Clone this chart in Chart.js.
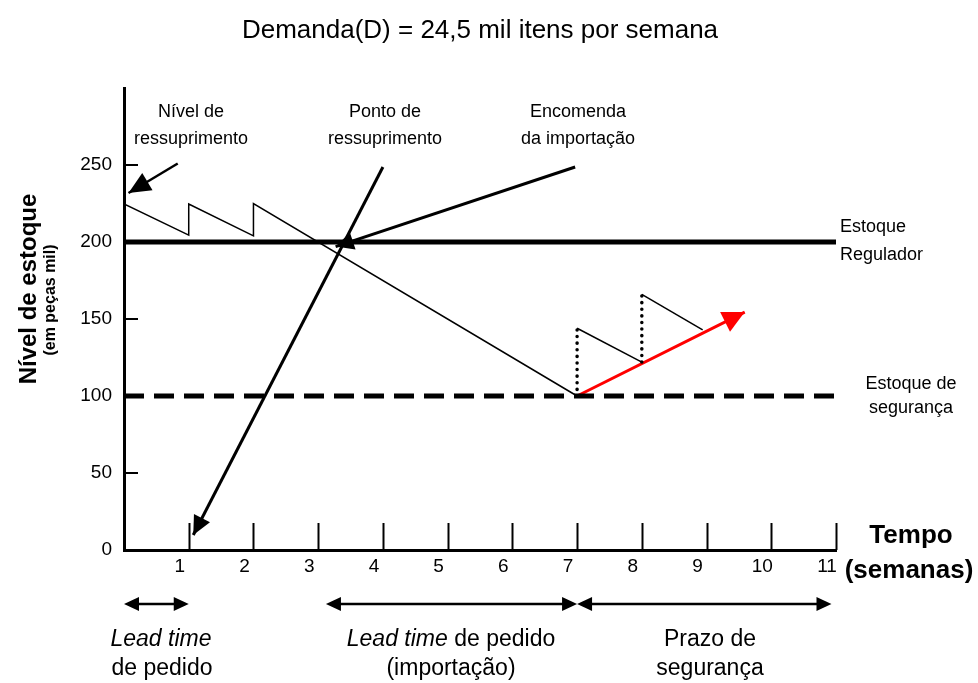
<!DOCTYPE html>
<html>
<head>
<meta charset="utf-8">
<script src="https://cdn.jsdelivr.net/npm/chart.js@4.4.1/dist/chart.umd.min.js"></script>
<style>
  html, body { margin: 0; padding: 0; background: #fff; }
  canvas { display: block; }
</style>
</head>
<body>
<canvas id="c" width="978" height="683"></canvas>
<script>
// ---------- DATA ----------
const title = 'Demanda(D) = 24,5 mil itens por semana';
const xTickValues = [1, 2, 3, 4, 5, 6, 7, 8, 9, 10, 11];
const yTickValues = [0, 50, 100, 150, 200, 250];

// stock level (sawtooth and long decline)
const sawX = [0, 1, 1, 2, 2, 7];
const sawY = [224.7, 204.5, 224.7, 204, 225, 100];
// replenishment after safety stock reached
const refill1X = [7, 8];
const refill1Y = [144, 122];
const refill2X = [8, 8.94];
const refill2Y = [166, 143];
const jump1X = [7, 7];
const jump1Y = [100, 144];
const jump2X = [8, 8];
const jump2Y = [122, 166];
// reference levels
const reguladorX = [0, 11];
const reguladorY = [200, 200];
const segurancaX = [0, 11];
const segurancaY = [100, 100];
// arrows
const redX = [7, 9.59];
const redY = [100, 154.5];
const pontoX = [4.0, 1.07];
const pontoY = [248.7, 9.7];
const encomendaX = [6.97, 3.27];
const encomendaY = [248.7, 197];
const nivelX = [0.83, 0.07];
const nivelY = [251, 231.8];
// time spans shown under the axis (weeks)
const spanLeadPedido = [0, 1];
const spanLeadImport = [3.12, 7];
const spanPrazo = [7, 10.93];

const pts = (xs, ys) => xs.map((x, i) => ({ x: x, y: ys[i] }));

function ds(xs, ys, o) {
  return Object.assign({
    data: pts(xs, ys),
    borderColor: '#000',
    borderWidth: 1.5,
    pointRadius: 0,
    showLine: true,
    fill: false,
    tension: 0
  }, o || {});
}

const datasets = [
  ds(reguladorX, reguladorY, { borderWidth: 5 }),
  ds(segurancaX, segurancaY, { borderWidth: 5, borderDash: [20, 10] }),
  ds(sawX, sawY, { borderWidth: 1.5 }),
  ds(refill1X, refill1Y, { borderWidth: 1.5 }),
  ds(refill2X, refill2Y, { borderWidth: 1.5 }),
  ds(jump1X, jump1Y, { borderWidth: 3.5, borderDash: [0.1, 6.5], borderCapStyle: 'round' }),
  ds(jump2X, jump2Y, { borderWidth: 3.5, borderDash: [0.1, 6.5], borderCapStyle: 'round' }),
  ds(pontoX, pontoY, { borderWidth: 3, arrow: { len: 19, half: 9 } }),
  ds(encomendaX, encomendaY, { borderWidth: 3, arrow: { len: 18, half: 9 } }),
  ds(nivelX, nivelY, { borderWidth: 2.5, arrow: { len: 22, half: 10 } }),
  ds(redX, redY, { borderWidth: 3, borderColor: '#ff0000', arrow: { len: 22, half: 11, color: '#ff0000' } })
];

const FONT = '"Liberation Sans", Arial, sans-serif';

function tri(ctx, tx, ty, fx, fy, len, half, color) {
  const dx = tx - fx, dy = ty - fy;
  const d = Math.hypot(dx, dy);
  const ux = dx / d, uy = dy / d;
  const bx = tx - ux * len, by = ty - uy * len;
  ctx.beginPath();
  ctx.moveTo(tx, ty);
  ctx.lineTo(bx - uy * half, by + ux * half);
  ctx.lineTo(bx + uy * half, by - ux * half);
  ctx.closePath();
  ctx.fillStyle = color;
  ctx.fill();
}

function mixedText(ctx, parts, cx, y) {
  let w = 0;
  parts.forEach(p => { ctx.font = p.font; p.w = ctx.measureText(p.t).width; w += p.w; });
  let x = cx - w / 2;
  ctx.textAlign = 'left';
  ctx.textBaseline = 'alphabetic';
  parts.forEach(p => { ctx.font = p.font; ctx.fillText(p.t, x, y); x += p.w; });
}

const decor = {
  id: 'decor',
  afterDatasetsDraw(chart) {
    const ctx = chart.ctx;
    const xs = chart.scales.x, ys = chart.scales.y;
    const area = chart.chartArea;
    ctx.save();
    // arrowheads
    chart.data.datasets.forEach(d => {
      if (!d.arrow) return;
      const n = d.data.length;
      const a = d.data[n - 2], b = d.data[n - 1];
      tri(ctx, xs.getPixelForValue(b.x), ys.getPixelForValue(b.y),
          xs.getPixelForValue(a.x), ys.getPixelForValue(a.y),
          d.arrow.len, d.arrow.half, d.arrow.color || '#000');
    });
    // x tick marks (inside)
    ctx.strokeStyle = '#000';
    ctx.lineWidth = 2;
    xTickValues.forEach(v => {
      const px = Math.round(xs.getPixelForValue(v)) + 0.5;
      ctx.beginPath();
      ctx.moveTo(px, area.bottom);
      ctx.lineTo(px, area.bottom - 27);
      ctx.stroke();
    });
    // y tick marks (inside)
    yTickValues.forEach(v => {
      if (v === 0) return;
      const py = Math.round(ys.getPixelForValue(v));
      ctx.beginPath();
      ctx.moveTo(area.left, py);
      ctx.lineTo(area.left + 14, py);
      ctx.stroke();
    });

    ctx.fillStyle = '#000';
    // title
    ctx.font = '26px ' + FONT;
    ctx.textAlign = 'center';
    ctx.textBaseline = 'alphabetic';
    ctx.fillText(title, 480, 38);

    // annotations
    ctx.font = '18px ' + FONT;
    ctx.textBaseline = 'middle';
    ctx.textAlign = 'center';
    ctx.fillText('Nível de', 191, 112);
    ctx.fillText('ressuprimento', 191, 139);
    ctx.fillText('Ponto de', 385, 112);
    ctx.fillText('ressuprimento', 385, 139);
    ctx.fillText('Encomenda', 578, 112);
    ctx.fillText('da importação', 578, 139);
    ctx.textAlign = 'left';
    ctx.fillText('Estoque', 840, 227);
    ctx.fillText('Regulador', 840, 255);
    ctx.textAlign = 'center';
    ctx.fillText('Estoque de', 911, 384);
    ctx.fillText('segurança', 911, 408);

    // axis titles
    ctx.font = 'bold 26px ' + FONT;
    ctx.textBaseline = 'alphabetic';
    ctx.fillText('Tempo', 911, 543);
    ctx.fillText('(semanas)', 909, 578);

    ctx.save();
    ctx.translate(29, 289);
    ctx.rotate(-Math.PI / 2);
    ctx.font = 'bold 24px ' + FONT;
    ctx.textBaseline = 'middle';
    ctx.fillText('Nível de estoque', 0, 0);
    ctx.restore();
    ctx.save();
    ctx.translate(51, 300);
    ctx.rotate(-Math.PI / 2);
    ctx.font = 'bold 16px ' + FONT;
    ctx.textBaseline = 'middle';
    ctx.fillText('(em peças mil)', 0, 0);
    ctx.restore();

    // bottom span arrows
    const yA = 604;
    ctx.lineWidth = 2.5;
    [spanLeadPedido, spanLeadImport, spanPrazo].forEach(s => {
      const x0 = xs.getPixelForValue(s[0]), x1 = xs.getPixelForValue(s[1]);
      ctx.beginPath();
      ctx.moveTo(x0 + 6, yA);
      ctx.lineTo(x1 - 6, yA);
      ctx.stroke();
      tri(ctx, x0, yA, x1, yA, 15, 7, '#000');
      tri(ctx, x1, yA, x0, yA, 15, 7, '#000');
    });

    // bottom span labels
    const it = 'italic 23px ' + FONT, nm = '23px ' + FONT;
    mixedText(ctx, [{ t: 'Lead time', font: it }], 161, 646);
    mixedText(ctx, [{ t: 'de pedido', font: nm }], 162, 675);
    mixedText(ctx, [{ t: 'Lead time', font: it }, { t: ' de pedido', font: nm }], 451, 646);
    mixedText(ctx, [{ t: '(importação)', font: nm }], 451, 675);
    mixedText(ctx, [{ t: 'Prazo de', font: nm }], 710, 646);
    mixedText(ctx, [{ t: 'segurança', font: nm }], 710, 675);

    ctx.restore();
  }
};

new Chart(document.getElementById('c'), {
  type: 'scatter',
  data: { datasets: datasets },
  options: {
    responsive: false,
    devicePixelRatio: 1,
    animation: false,
    layout: { padding: { top: 88, right: 142, bottom: 103, left: 0 } },
    plugins: { legend: { display: false }, tooltip: { enabled: false }, title: { display: false } },
    scales: {
      x: {
        type: 'linear', min: 0, max: 11,
        afterFit: s => { s.height = 30; },
        afterBuildTicks: s => { s.ticks = xTickValues.map(v => ({ value: v })); },
        grid: { display: false, drawTicks: false },
        border: { display: true, color: '#000', width: 3 },
        ticks: { color: '#000', font: { family: FONT, size: 19 }, padding: 5, labelOffset: -9, maxRotation: 0, autoSkip: false }
      },
      y: {
        type: 'linear', min: 0, max: 300,
        afterFit: s => { s.width = 124; },
        afterBuildTicks: s => { s.ticks = yTickValues.map(v => ({ value: v })); },
        grid: { display: false, drawTicks: false },
        border: { display: true, color: '#000', width: 3 },
        ticks: { color: '#000', font: { family: FONT, size: 19 }, padding: 12 }
      }
    }
  },
  plugins: [decor]
});
</script>
</body>
</html>
